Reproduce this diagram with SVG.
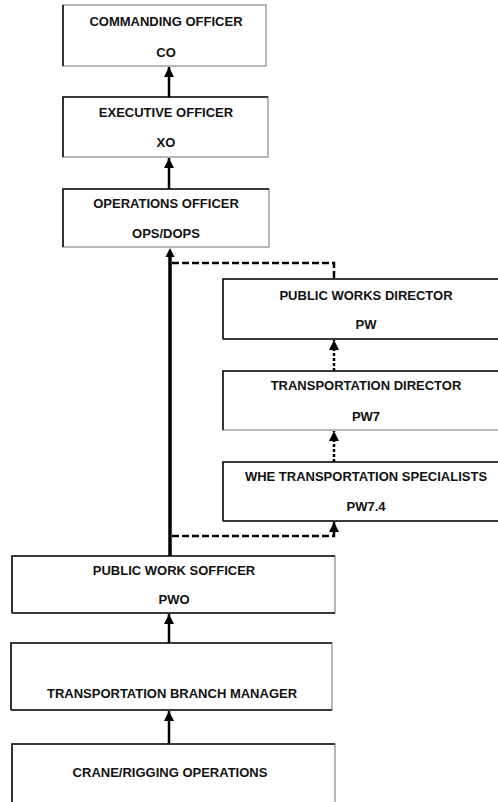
<svg xmlns="http://www.w3.org/2000/svg" width="498" height="802" viewBox="0 0 498 802">
<defs>
<style>
.box{fill:#fff;stroke:#888;stroke-width:1.2}
.edge{fill:none;stroke:#111;stroke-width:1.6}
.t{font-family:"Liberation Sans",Arial,sans-serif;font-weight:bold;font-size:13px;fill:#111;text-anchor:middle}
.solid{fill:none;stroke:#000;stroke-width:2.5}
.thick{fill:none;stroke:#000;stroke-width:3.5}
.dash{fill:none;stroke:#000;stroke-width:2.5;stroke-dasharray:7,3}
.dot{fill:none;stroke:#000;stroke-width:2.5;stroke-dasharray:3,2}
</style>
<marker id="ah" viewBox="0 0 10 10" refX="10" refY="5" markerWidth="4" markerHeight="4" orient="auto" markerUnits="strokeWidth">
<path d="M0,0 L10,5 L0,10 z" fill="#000"/>
</marker>
</defs>
<rect width="498" height="802" fill="#fff"/>

<g id="co">
<rect class="box" x="63" y="5" width="203" height="61"/>
<path class="edge" d="M63,66 V5"/>
<text class="t" x="166" y="26">COMMANDING OFFICER</text>
<text class="t" x="166" y="57">CO</text>
</g>
<g id="xo">
<rect class="box" x="63" y="97" width="205" height="60"/>
<path class="edge" d="M63,157 V97 H268"/>
<text class="t" x="166" y="117">EXECUTIVE OFFICER</text>
<text class="t" x="166" y="147">XO</text>
</g>
<g id="ops">
<rect class="box" x="63" y="189" width="206" height="58"/>
<path class="edge" d="M63,247 V189 H269"/>
<text class="t" x="166" y="208">OPERATIONS OFFICER</text>
<text class="t" x="166" y="238">OPS/DOPS</text>
</g>
<g id="pw">
<rect class="box" x="223" y="279" width="285" height="60"/>
<path class="edge" d="M223,339 V279 H508 M223,339 H508"/>
<text class="t" x="366" y="300">PUBLIC WORKS DIRECTOR</text>
<text class="t" x="366" y="329">PW</text>
</g>
<g id="pw7">
<rect class="box" x="223" y="371" width="285" height="59"/>
<path class="edge" d="M223,430 V371 H508"/>
<text class="t" x="366" y="390">TRANSPORTATION DIRECTOR</text>
<text class="t" x="366" y="421">PW7</text>
</g>
<g id="pw74">
<rect class="box" x="223" y="462" width="285" height="59"/>
<path class="edge" d="M223,521 V462 H508 M223,521 H508"/>
<text class="t" x="366" y="481">WHE TRANSPORTATION SPECIALISTS</text>
<text class="t" x="366" y="511">PW7.4</text>
</g>
<g id="pwo">
<rect class="box" x="12" y="556" width="323" height="57"/>
<path class="edge" d="M12,613 V556 H335 M12,613 H335"/>
<text class="t" x="174" y="575">PUBLIC WORK SOFFICER</text>
<text class="t" x="174" y="604">PWO</text>
</g>
<g id="tbm">
<rect class="box" x="11" y="643" width="321" height="67"/>
<path class="edge" d="M11,710 V643 H332 M11,710 H332"/>
<text class="t" x="172" y="698">TRANSPORTATION BRANCH MANAGER</text>
</g>
<g id="crane">
<rect class="box" x="12" y="744" width="323" height="70"/>
<path class="edge" d="M12,810 V744 H335"/>
<text class="t" x="170" y="777">CRANE/RIGGING OPERATIONS</text>
</g>

<g id="connectors">
<path class="solid" d="M169,97 V67" marker-end="url(#ah)"/>
<path class="solid" d="M169,189 V158" marker-end="url(#ah)"/>
<path class="thick" d="M170,556 V256"/>
<path fill="#000" d="M170,248 L165.5,257 L174.5,257 z"/>
<path class="dash" d="M172,263 H334 V279"/>
<path class="dot" d="M334,371 V340" marker-end="url(#ah)"/>
<path class="dot" d="M334,462 V431" marker-end="url(#ah)"/>
<path class="dash" d="M172,536 H334 V522" marker-end="url(#ah)"/>
<path class="solid" d="M169,643 V614" marker-end="url(#ah)"/>
<path class="solid" d="M169,744 V711" marker-end="url(#ah)"/>
</g>
</svg>
